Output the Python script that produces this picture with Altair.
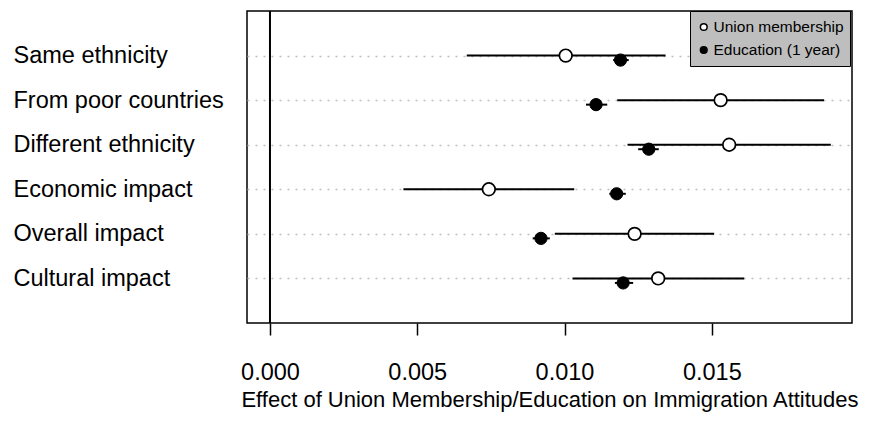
import altair as alt
import pandas as pd

categories = ["Same ethnicity", "From poor countries", "Different ethnicity",
              "Economic impact", "Overall impact", "Cultural impact"]
union_est = [0.01004, 0.01530, 0.01559, 0.00743, 0.01238, 0.01318]
union_lo = [0.00668, 0.01179, 0.01214, 0.00453, 0.00967, 0.01027]
union_hi = [0.01343, 0.01881, 0.01904, 0.01033, 0.01508, 0.01610]
edu_est = [0.01190, 0.01107, 0.01286, 0.01177, 0.00920, 0.01199]
edu_lo = [0.01165, 0.01073, 0.01250, 0.01152, 0.00892, 0.01171]
edu_hi = [0.01218, 0.01145, 0.01320, 0.01208, 0.00950, 0.01233]
series_names = ["Union membership", "Education (1 year)"]
x_ticks = [0.0, 0.005, 0.010, 0.015]
x_domain = [-0.00078, 0.01976]
zero_line = [0.0]

FONT = "Liberation Sans"
FS = 23.5

union_df = pd.DataFrame({"category": categories, "series": series_names[0],
                         "est": union_est, "lo": union_lo, "hi": union_hi})
edu_df = pd.DataFrame({"category": categories, "series": series_names[1],
                       "est": edu_est, "lo": edu_lo, "hi": edu_hi})

y_enc = alt.Y("category:N",
              scale=alt.Scale(type="point", domain=categories, padding=1),
              axis=alt.Axis(labelAlign="left", labelPadding=234, labelBaseline="middle",
                            ticks=False, domain=False, grid=True,
                            gridColor="#bebebe", gridDash=[2, 6], gridWidth=1.3,
                            labelFont=FONT, labelFontSize=FS, labelColor="black",
                            labelLimit=400),
              title=None)
x_scale = alt.Scale(domain=x_domain, nice=False, zero=False)
x_axis = alt.Axis(values=x_ticks, format=".3f", tickSize=12, tickColor="black",
                  tickWidth=1.5, domain=False, grid=False,
                  labelFont=FONT, labelFontSize=FS, labelColor="black", labelPadding=25,
                  labelFlush=False,
                  title="Effect of Union Membership/Education on Immigration Attitudes",
                  titleFont=FONT, titleFontSize=22, titleFontWeight="normal",
                  titleColor="black", titleY=76, titleBaseline="middle")

fill_enc = alt.Fill("series:N",
                    scale=alt.Scale(domain=series_names, range=["white", "black"]),
                    legend=alt.Legend(orient="none", legendX=443, legendY=0,
                                      title=None, fillColor="#bebebe", strokeColor="black",
                                      padding=6, labelFont=FONT, labelFontSize=15.5,
                                      labelColor="black", symbolType="circle",
                                      symbolSize=45, symbolStrokeColor="black",
                                      symbolStrokeWidth=1.5, rowPadding=3, labelOffset=2,
                                      clipHeight=20))

zero = alt.Chart(pd.DataFrame({"x": zero_line})).mark_rule(
    color="black", strokeWidth=2).encode(x=alt.X("x:Q", scale=x_scale, axis=x_axis))

union_ci = alt.Chart(union_df).mark_rule(color="black", strokeWidth=2).encode(
    x=alt.X("lo:Q", scale=x_scale, axis=x_axis), x2="hi:Q", y=y_enc)
edu_ci = alt.Chart(edu_df).mark_rule(color="black", strokeWidth=2).encode(
    x=alt.X("lo:Q", scale=x_scale, axis=x_axis), x2="hi:Q", y=y_enc,
    yOffset=alt.value(4.5))
union_pt = alt.Chart(union_df).mark_point(
    shape="circle", filled=True, stroke="black", strokeWidth=1.7, size=160, opacity=1
).encode(x=alt.X("est:Q", scale=x_scale, axis=x_axis), y=y_enc, fill=fill_enc)
edu_pt = alt.Chart(edu_df).mark_point(
    shape="circle", filled=True, stroke="black", strokeWidth=1, size=150, opacity=1
).encode(x=alt.X("est:Q", scale=x_scale, axis=x_axis), y=y_enc, fill=fill_enc,
         yOffset=alt.value(4.5))

chart = alt.layer(zero, union_ci, edu_ci, union_pt, edu_pt).properties(
    width=605, height=312,
    autosize=alt.AutoSizeParams(type="none"),
    padding={"left": 239, "top": 3, "right": 10, "bottom": 100},
    background="white",
).configure_view(stroke="black", strokeWidth=1.5)

chart.save("out.html", embed_options={"renderer": "svg", "actions": False})
